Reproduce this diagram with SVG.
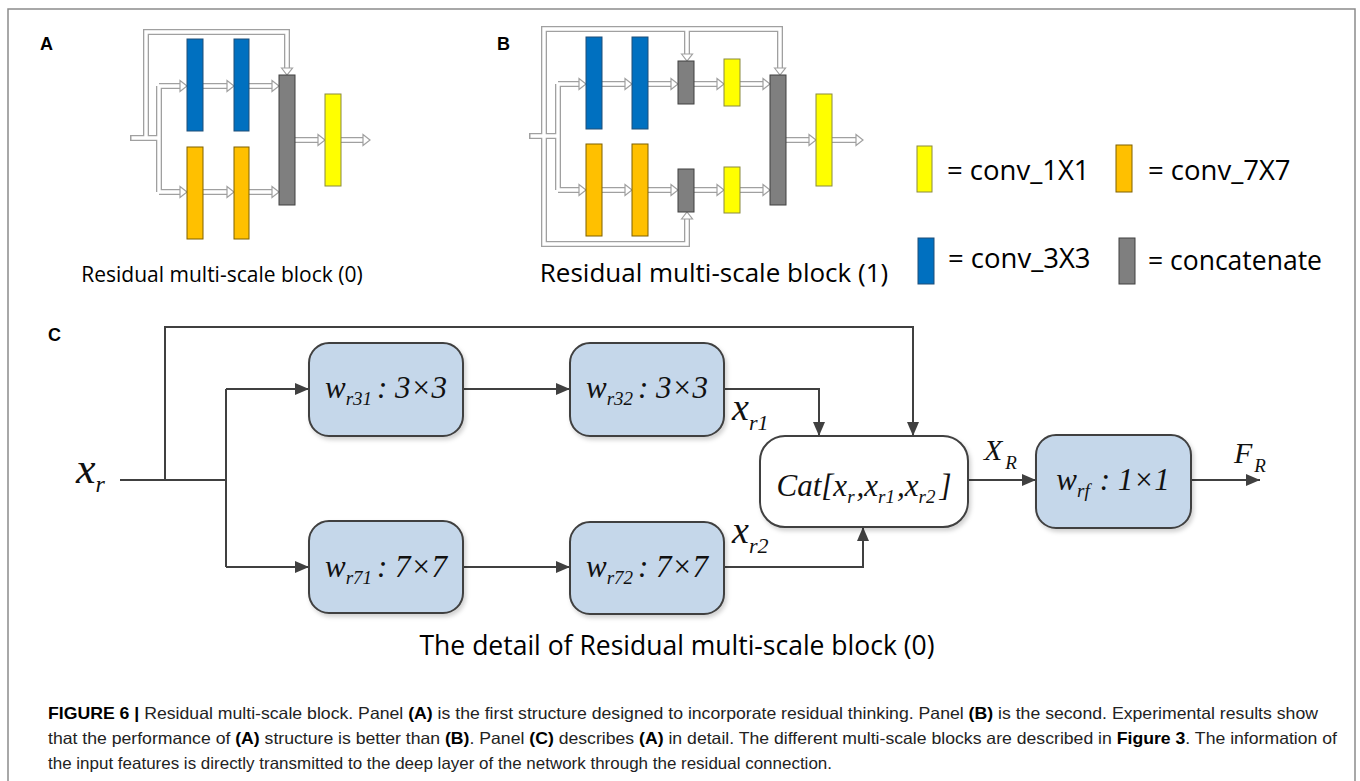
<svg xmlns="http://www.w3.org/2000/svg" width="1360" height="781" viewBox="0 0 1360 781">
<defs>
<style>
.bo{fill:none;stroke:#a0a0a0;stroke-width:6;stroke-linejoin:miter}
.bi{fill:none;stroke:#ffffff;stroke-width:3.4;stroke-linejoin:miter}
.ah{fill:#ffffff;stroke:#a0a0a0;stroke-width:1.2;stroke-linejoin:miter}
.blue{fill:#0070c0;stroke:#1f4e79;stroke-width:1}
.orange{fill:#ffc000;stroke:#7f6000;stroke-width:1}
.yellow{fill:#ffff00;stroke:#8a8a40;stroke-width:1}
.gray{fill:#7f7f7f;stroke:#404040;stroke-width:1}
.lbl{font-family:"Liberation Sans",Arial,sans-serif;font-weight:bold;font-size:18px;fill:#000}
.os{font-family:"Open Sans","Noto Sans",sans-serif;fill:#000}
.conn{fill:none;stroke:#404040;stroke-width:2}
.box{fill:#c5d7ea;stroke:#404040;stroke-width:2}
.wbox{fill:#ffffff;stroke:#404040;stroke-width:2}
.m{font-family:"Liberation Serif","Times New Roman",serif;font-style:italic;fill:#111}
.cap{font-family:"Liberation Sans",Arial,sans-serif;font-size:16.5px;fill:#222}
.capb{font-weight:bold;fill:#000}
</style>
<marker id="arr" viewBox="0 0 14 12" refX="14" refY="6" markerWidth="14" markerHeight="12" markerUnits="userSpaceOnUse" orient="auto">
<path d="M0,0 L14,6 L0,12 Z" fill="#404040"/>
</marker>
<filter id="sh" x="-10%" y="-10%" width="125%" height="130%">
<feDropShadow dx="2" dy="3" stdDeviation="2" flood-color="#000" flood-opacity="0.18"/>
</filter>
</defs>

<rect width="1360" height="781" fill="#ffffff"/>
<path d="M8,781 V9 H1355 V781" fill="none" stroke="#8c8c8c" stroke-width="1.5"/>

<!-- Panel labels -->
<text class="lbl" x="40" y="50">A</text>
<text class="lbl" x="497" y="50">B</text>
<text class="lbl" x="48" y="341">C</text>

<!-- Panel A connectors -->
<g id="connectors-a">
<g class="bo">
<path d="M130,138 H159 M159,86 V192 M159,86 H181 M159,192 H181 M146,138 V32 H287 V69 M203,86 H228 M249,86 H273 M203,192 H228 M249,192 H273 M295,140 H319 M341,140 H364"/>
</g>
<g class="bi">
<path d="M131.5,138 H159 M159,86 V192 M159,86 H182 M159,192 H182 M146,138 V32 H287 V70 M202,86 H229 M248,86 H274 M202,192 H229 M248,192 H274 M294,140 H320 M340,140 H365"/>
</g>
<g class="ah">
<polygon points="180,80.5 187,86 180,91.5"/>
<polygon points="180,186.5 187,192 180,197.5"/>
<polygon points="227,80.5 234,86 227,91.5"/>
<polygon points="272,80.5 279,86 272,91.5"/>
<polygon points="227,186.5 234,192 227,197.5"/>
<polygon points="272,186.5 279,192 272,197.5"/>
<polygon points="318,134.5 325,140 318,145.5"/>
<polygon points="363,134.5 370,140 363,145.5"/>
<polygon points="281.5,68 287,75 292.5,68"/>
</g>
</g>

<!-- Panel A nodes -->
<g id="a-conv3-1"><rect class="blue" x="187" y="39" width="16" height="92"/></g>
<g id="a-conv3-2"><rect class="blue" x="234" y="39" width="15" height="92"/></g>
<g id="a-conv7-1"><rect class="orange" x="187" y="147" width="16" height="92"/></g>
<g id="a-conv7-2"><rect class="orange" x="234" y="147" width="15" height="92"/></g>
<g id="a-concat"><rect class="gray" x="279" y="75" width="16" height="130"/></g>
<g id="a-conv1"><rect class="yellow" x="325" y="94" width="16" height="92"/></g>
<text class="os" x="222" y="282" font-size="21" text-anchor="middle">Residual multi-scale block (0)</text>

<!-- Panel B connectors -->
<g id="connectors-b">
<g class="bo">
<path d="M529,136 H558 M558,84 V190 M558,84 H580 M558,190 H580 M544,136 V29 H780 V69 M687,29 V55 M544,136 V244 H687 V218 M602,84 H626 M648,84 H672 M694,84 H718 M740,84 H764 M602,190 H626 M648,190 H672 M694,190 H718 M740,190 H764 M786,140 H810 M832,140 H857"/>
</g>
<g class="bi">
<path d="M530.5,136 H558 M558,84 V190 M558,84 H581 M558,190 H581 M544,136 V29 H780 V70 M687,29 V56 M544,136 V244 H687 V217 M601,84 H627 M647,84 H673 M693,84 H719 M739,84 H765 M601,190 H627 M647,190 H673 M693,190 H719 M739,190 H765 M785,140 H811 M831,140 H858"/>
</g>
<g class="ah">
<polygon points="579,78.5 586,84 579,89.5"/>
<polygon points="579,184.5 586,190 579,195.5"/>
<polygon points="625,78.5 632,84 625,89.5"/>
<polygon points="671,78.5 678,84 671,89.5"/>
<polygon points="717,78.5 724,84 717,89.5"/>
<polygon points="763,78.5 770,84 763,89.5"/>
<polygon points="625,184.5 632,190 625,195.5"/>
<polygon points="671,184.5 678,190 671,195.5"/>
<polygon points="717,184.5 724,190 717,195.5"/>
<polygon points="763,184.5 770,190 763,195.5"/>
<polygon points="809,134.5 816,140 809,145.5"/>
<polygon points="856,134.5 863,140 856,145.5"/>
<polygon points="774.5,68 780,75 785.5,68"/>
<polygon points="681.5,54 687,61 692.5,54"/>
<polygon points="681.5,219 687,212 692.5,219"/>
</g>
</g>

<!-- Panel B nodes -->
<g id="b-conv3-1"><rect class="blue" x="586" y="37" width="16" height="92"/></g>
<g id="b-conv3-2"><rect class="blue" x="632" y="37" width="16" height="92"/></g>
<g id="b-conv7-1"><rect class="orange" x="586" y="144" width="16" height="92"/></g>
<g id="b-conv7-2"><rect class="orange" x="632" y="144" width="16" height="92"/></g>
<g id="b-concat-top"><rect class="gray" x="678" y="61" width="16" height="43"/></g>
<g id="b-conv1-top"><rect class="yellow" x="724" y="59" width="16" height="47"/></g>
<g id="b-concat-bottom"><rect class="gray" x="678" y="169" width="16" height="43"/></g>
<g id="b-conv1-bottom"><rect class="yellow" x="724" y="167" width="16" height="46"/></g>
<g id="b-concat"><rect class="gray" x="770" y="75" width="16" height="130"/></g>
<g id="b-conv1"><rect class="yellow" x="816" y="94" width="16" height="92"/></g>
<text class="os" x="714" y="282" font-size="26" text-anchor="middle">Residual multi-scale block (1)</text>

<!-- Legend -->
<g id="legend">
<rect class="yellow" x="917" y="146" width="15" height="46"/>
<text class="os" x="947" y="180" font-size="27.5">= conv_1X1</text>
<rect class="orange" x="1116" y="145" width="16" height="47"/>
<text class="os" x="1148" y="180" font-size="27.5">= conv_7X7</text>
<rect class="blue" x="918" y="238" width="16" height="46"/>
<text class="os" x="948" y="268" font-size="27.5">= conv_3X3</text>
<rect class="gray" x="1119" y="238" width="16" height="46"/>
<text class="os" x="1148" y="270" font-size="26.5">= concatenate</text>
</g>

<!-- Panel C connectors -->
<g id="connectors-c" class="conn">
<path d="M120,480 H226"/>
<path d="M165,480 V327 H913 V436" marker-end="url(#arr)"/>
<path d="M226,389 V567"/>
<path d="M226,389 H309" marker-end="url(#arr)"/>
<path d="M226,567 H309" marker-end="url(#arr)"/>
<path d="M463,389 H570" marker-end="url(#arr)"/>
<path d="M463,567 H570" marker-end="url(#arr)"/>
<path d="M724,389 H819 V436" marker-end="url(#arr)"/>
<path d="M724,567 H863 V527" marker-end="url(#arr)"/>
<path d="M968,480 H1036" marker-end="url(#arr)"/>
<path d="M1191,480 H1260" marker-end="url(#arr)"/>
</g>

<!-- Panel C nodes -->
<g id="c-wr31">
<rect class="box" x="309" y="343" width="154" height="93" rx="20" filter="url(#sh)"/>
<text class="m" x="386" y="398" font-size="31" text-anchor="middle">w<tspan font-size="19" dy="7">r31</tspan><tspan dy="-7" dx="5">: 3×3</tspan></text>
</g>
<g id="c-wr32">
<rect class="box" x="570" y="343" width="154" height="93" rx="20" filter="url(#sh)"/>
<text class="m" x="647" y="398" font-size="31" text-anchor="middle">w<tspan font-size="19" dy="7">r32</tspan><tspan dy="-7" dx="5">: 3×3</tspan></text>
</g>
<g id="c-wr71">
<rect class="box" x="309" y="521" width="154" height="92" rx="20" filter="url(#sh)"/>
<text class="m" x="386" y="577" font-size="31" text-anchor="middle">w<tspan font-size="19" dy="7">r71</tspan><tspan dy="-7" dx="5">: 7×7</tspan></text>
</g>
<g id="c-wr72">
<rect class="box" x="570" y="522" width="154" height="92" rx="20" filter="url(#sh)"/>
<text class="m" x="647" y="577" font-size="31" text-anchor="middle">w<tspan font-size="19" dy="7">r72</tspan><tspan dy="-7" dx="5">: 7×7</tspan></text>
</g>
<g id="c-cat">
<rect class="wbox" x="760" y="436" width="208" height="91" rx="25" filter="url(#sh)"/>
<text class="m" x="864" y="496" font-size="31" text-anchor="middle">Cat[x<tspan font-size="19" dy="7">r</tspan><tspan dy="-7" dx="2">,x</tspan><tspan font-size="19" dy="7">r1</tspan><tspan dy="-7" dx="2">,x</tspan><tspan font-size="19" dy="7">r2</tspan><tspan dy="-7" dx="4">]</tspan></text>
</g>
<g id="c-wrf">
<rect class="box" x="1036" y="435" width="155" height="93" rx="20" filter="url(#sh)"/>
<text class="m" x="1113" y="490" font-size="31" text-anchor="middle">w<tspan font-size="19" dy="7">rf</tspan><tspan dy="-7" dx="10">: 1×1</tspan></text>
</g>

<!-- Panel C variable labels -->
<text class="m" x="76" y="483" font-size="44">x<tspan font-size="24" dy="9">r</tspan></text>
<text class="m" x="732" y="420" font-size="38">x<tspan font-size="22" dy="10">r1</tspan></text>
<text class="m" x="732" y="543" font-size="38">x<tspan font-size="22" dy="10">r2</tspan></text>
<text class="m" x="984" y="460" font-size="30">X<tspan font-size="19" dy="9" dx="3">R</tspan></text>
<text class="m" x="1234" y="463" font-size="30">F<tspan font-size="19" dy="9" dx="2">R</tspan></text>

<text class="os" x="677" y="655" font-size="26.5" text-anchor="middle">The detail of Residual multi-scale block (0)</text>

<!-- Caption -->
<text class="cap" x="48" y="719" textLength="1270" lengthAdjust="spacingAndGlyphs"><tspan class="capb">FIGURE 6 |</tspan> Residual multi-scale block. Panel <tspan class="capb">(A)</tspan> is the first structure designed to incorporate residual thinking. Panel <tspan class="capb">(B)</tspan> is the second. Experimental results show</text>
<text class="cap" x="48" y="744" textLength="1289" lengthAdjust="spacingAndGlyphs">that the performance of <tspan class="capb">(A)</tspan> structure is better than <tspan class="capb">(B)</tspan>. Panel <tspan class="capb">(C)</tspan> describes <tspan class="capb">(A)</tspan> in detail. The different multi-scale blocks are described in <tspan class="capb">Figure 3</tspan>. The information of</text>
<text class="cap" x="48" y="769" textLength="784" lengthAdjust="spacingAndGlyphs">the input features is directly transmitted to the deep layer of the network through the residual connection.</text>
</svg>
